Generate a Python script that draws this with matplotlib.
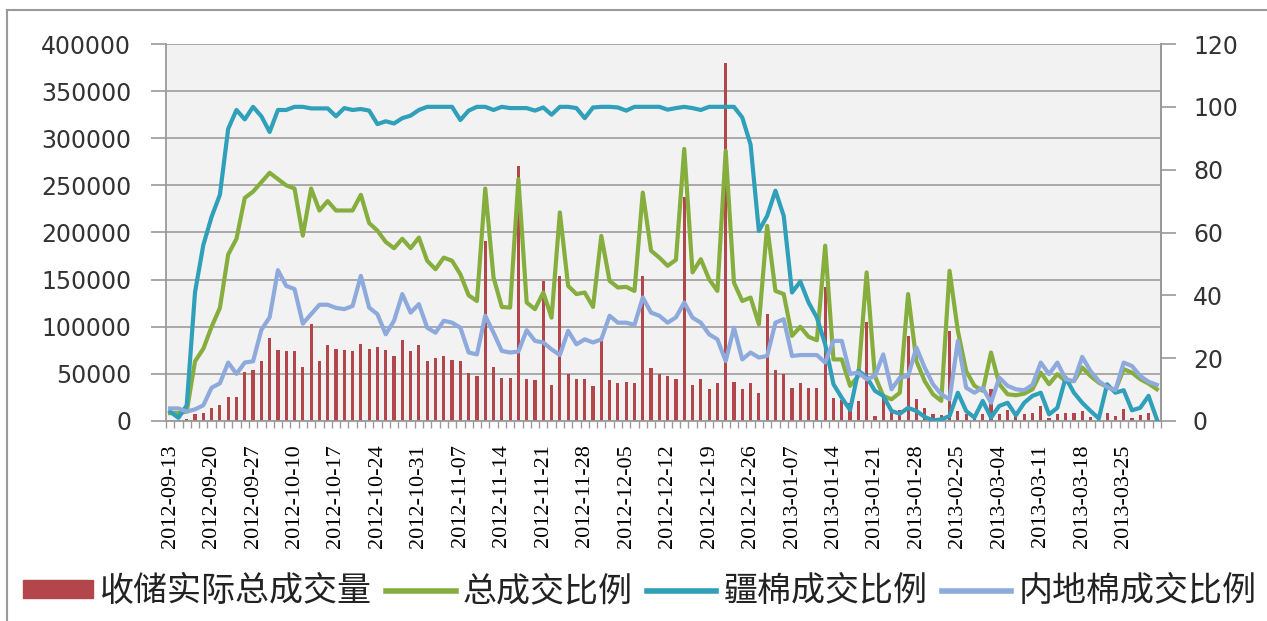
import numpy as np
import matplotlib
matplotlib.use("Agg")
import matplotlib.pyplot as plt
from matplotlib.patches import Patch
from matplotlib.lines import Line2D

# ---------------- data ----------------
tick_labels = ["2012-09-13", "2012-09-20", "2012-09-27", "2012-10-10", "2012-10-17",
               "2012-10-24", "2012-10-31", "2012-11-07", "2012-11-14", "2012-11-21",
               "2012-11-28", "2012-12-05", "2012-12-12", "2012-12-19", "2012-12-26",
               "2013-01-07", "2013-01-14", "2013-01-21", "2013-01-28", "2013-02-25",
               "2013-03-04", "2013-03-11", "2013-03-18", "2013-03-25"]

volume = [0, 500, 2000, 7000, 9000, 14000, 17000, 25000, 25000, 52000,
          54000, 64000, 88000, 75000, 74000, 74000, 57000, 103000, 64000, 81000,
          76000, 75000, 74000, 82000, 76000, 78000, 75000, 69000, 86000, 74000,
          81000, 64000, 67000, 69000, 65000, 64000, 51000, 48000, 191000, 57000,
          46000, 46000, 271000, 45000, 43000, 149000, 38000, 154000, 50000, 45000,
          45000, 37000, 85000, 43000, 40000, 41000, 40000, 154000, 56000, 50000,
          48000, 45000, 238000, 38000, 45000, 34000, 40000, 380000, 41000, 34000,
          40000, 30000, 113000, 54000, 50000, 35000, 40000, 35000, 35000, 142000,
          24000, 22000, 19000, 21000, 105000, 5000, 25000, 11000, 12000, 90000,
          23000, 14000, 7000, 6000, 95000, 11000, 7000, 6000, 7000, 34000,
          7000, 12000, 5000, 7000, 8000, 16000, 3500, 7000, 9000, 9000,
          11000, 4000, 2000, 9000, 5000, 13000, 3500, 6000, 9000, 2000]

total_ratio = [2.5, 2.5, 3, 19, 23, 30, 36, 53, 58, 71,
               73, 76, 79, 77, 75, 74, 59, 74, 67, 70,
               67, 67, 67, 72, 63, 60.6, 57, 55, 58, 55,
               58.4, 51, 48.3, 52, 51, 46.7, 40, 38.2, 74, 45.7,
               36.3, 36.1, 77, 37.7, 35.6, 40.9, 32.9, 66.4, 43, 40.4,
               40.9, 36.3, 58.9, 44.6, 42.5, 42.7, 41.4, 72.7, 54.2, 52,
               49.4, 51.3, 86.6, 47.3, 51.5, 45.1, 41.4, 86, 44, 38.2,
               39.3, 30.8, 62.1, 41.4, 40.4, 27.1, 30, 26.8, 25.7, 55.8,
               19.6, 19.6, 11.2, 14.3, 47.3, 14.3, 8, 6.9, 9, 40.4,
               19.1, 12.7, 8.5, 6.4, 47.8, 28.7, 15.9, 11.2, 9.6, 21.8,
               11.7, 8.5, 8.2, 8.7, 10.1, 15.4, 11.7, 14.9, 12.7, 12.7,
               17, 14.3, 12.2, 10.8, 9.8, 16.5, 15.4, 13.3, 11.9, 10.1]

xinjiang_ratio = [3, 1, 5, 41, 56, 65, 72, 93, 99, 96,
                  100, 97, 92, 99, 99, 100, 100, 99.5, 99.5, 99.5,
                  97, 99.6, 99, 99.3, 98.8, 94.5, 95.4, 94.7, 96.4, 97.2,
                  99, 100, 100, 100, 100, 95.8, 98.8, 100, 100, 99,
                  100, 99.6, 99.6, 99.6, 98.8, 99.8, 97.5, 100, 100, 99.6,
                  96.4, 99.8, 100, 100, 99.8, 98.8, 100, 100, 100, 100,
                  99.1, 99.6, 100, 99.6, 99, 100, 100, 100, 100, 96.6,
                  88, 60.5, 65.3, 73.3, 65.3, 40.9, 44.4, 37.7, 32.9, 24.4,
                  11.7, 7.4, 3.5, 16, 14, 9.6, 8, 3.2, 2.3, 4.2,
                  3.2, 1.3, 0.2, 0.5, 1.6, 9, 3.2, 1.1, 6.4, 1.1,
                  4.8, 5.8, 1.8, 5.8, 8, 9, 2.1, 4.2, 13.8, 9,
                  5.8, 3.2, 0.8, 11.7, 9, 9.8, 3.4, 4.2, 8, 0.5]

inland_ratio = [4, 4, 3, 3.7, 5, 10.6, 12, 18.6, 15, 18.6,
                19, 29, 33, 48, 43, 42, 31, 34, 37, 37,
                36, 35.6, 36.6, 46.2, 36.1, 34, 27.6, 31.9, 40.4, 34.5,
                37.2, 29.7, 28.1, 31.9, 31.3, 29.7, 21.8, 21.2, 33.5, 28.1,
                22.3, 21.8, 22.1, 28.9, 25.5, 25, 22.8, 21, 28.7, 24.4,
                26, 25, 26, 33.5, 31.3, 31.3, 30.6, 39.3, 34.5, 33.5,
                31.3, 33, 37.7, 32.9, 31.3, 27.6, 26, 19.1, 29.7, 19.6,
                21.8, 20.2, 20.7, 31.3, 32.4, 20.7, 21, 21, 21, 18.6,
                25.5, 25.5, 15, 15.4, 13.3, 14.3, 21.2, 10.1, 13.8, 14.3,
                23.4, 17, 11.7, 8.5, 6.9, 25.5, 10.6, 9, 10.6, 5.8,
                13.8, 11.2, 10.1, 9.8, 11.5, 18.6, 14.9, 18.6, 13.3, 12.7,
                20.4, 15.9, 12.7, 10.8, 9.8, 18.6, 17.5, 14.3, 12.5, 11.5]

series_names = ["收储实际总成交量", "总成交比例", "疆棉成交比例", "内地棉成交比例"]

# ---------------- styling ----------------
C_BAR = "#b3464a"
C_TOTAL = "#86ae3e"
C_XJ = "#2f9fba"
C_IN = "#8ea9db"
C_GRID = "#a8a8a8"
C_TEXT = "#333333"
CJK = ["Noto Sans CJK SC", "DejaVu Sans"]

W, H = 1267, 621
fig = plt.figure(figsize=(W / 100, H / 100), dpi=100)
fig.patch.set_facecolor("white")

L, R, T, B = 166, 1161, 44, 421
ax = fig.add_axes([L / W, 1 - B / H, (R - L) / W, (B - T) / H])
ax.set_facecolor("#f2f2f2")

n = len(volume)
x = np.arange(n)

ax.bar(x, volume, width=0.38, color=C_BAR, zorder=2)
ax.set_xlim(-0.5, n - 0.5)
ax.set_ylim(0, 400000)
ax.set_yticks(np.arange(0, 400001, 50000))
ax.yaxis.grid(True, color=C_GRID, lw=1.4, zorder=0)
ax.set_axisbelow(True)

# x ticks: labels every 5 categories, small marks at category boundaries
ax.set_xticks(np.arange(0, n, 5)[:len(tick_labels)])
ax.set_xticklabels(tick_labels, rotation=90, fontsize=16, family="Liberation Serif",
                   color="black")
ax.tick_params(axis="x", which="major", length=0, pad=17)
ax.set_xticks(np.arange(n + 1) - 0.5, minor=True)
ax.tick_params(axis="x", which="minor", length=5, color="#9a9a9a", width=1)

ax.tick_params(axis="y", length=11, color="#9a9a9a", width=1.2, pad=14,
               labelsize=17, labelcolor=C_TEXT)
ax.spines["top"].set_visible(False)
for sp in ["left", "right", "bottom"]:
    ax.spines[sp].set_color("#9a9a9a")
    ax.spines[sp].set_linewidth(1.3)

ax2 = ax.twinx()
ax2.set_ylim(0, 120)
ax2.set_yticks(np.arange(0, 121, 20))
ax2.tick_params(axis="y", length=11, color="#9a9a9a", width=1.2, pad=12,
                labelsize=17, labelcolor=C_TEXT)
for sp in ["top", "left", "bottom"]:
    ax2.spines[sp].set_visible(False)
ax2.spines["right"].set_color("#9a9a9a")
ax2.spines["right"].set_linewidth(1.3)

lw = 3.0
ax2.plot(x, total_ratio, color=C_TOTAL, lw=lw, solid_joinstyle="round", zorder=3)
ax2.plot(x, xinjiang_ratio, color=C_XJ, lw=lw, solid_joinstyle="round", zorder=4)
ax2.plot(x, inland_ratio, color=C_IN, lw=lw, solid_joinstyle="round", zorder=5)

# legend
handles = [Patch(facecolor=C_BAR, edgecolor=C_BAR),
           Line2D([], [], color=C_TOTAL, lw=4),
           Line2D([], [], color=C_XJ, lw=4),
           Line2D([], [], color=C_IN, lw=4)]
leg = fig.legend(handles, series_names, loc="center left",
                 bbox_to_anchor=(23 / W, 1 - 592 / H), ncol=4, frameon=False,
                 prop={"family": CJK, "size": 24.5}, handlelength=2.05,
                 handleheight=0.44, handletextpad=0.2, columnspacing=0.42,
                 borderpad=0, borderaxespad=0)
for t in leg.get_texts():
    t.set_color("#222222")

# outer frame (only left and top edges fall inside the picture)
frame_kw = dict(color="#9a9a9a", lw=1.5, transform=fig.transFigure)
fig.add_artist(Line2D([7 / W, 7 / W], [0, 1 - 10 / H], **frame_kw))
fig.add_artist(Line2D([7 / W, 1], [1 - 10 / H, 1 - 10 / H], **frame_kw))

fig.savefig("out.png", dpi=100)
